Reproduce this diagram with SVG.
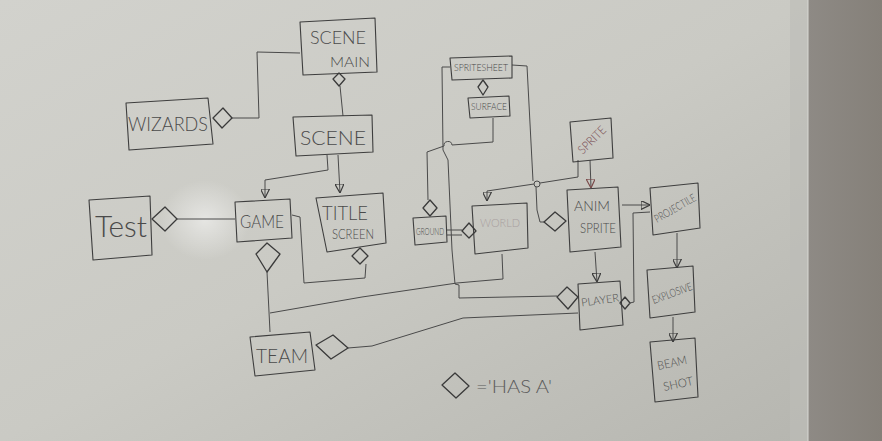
<svg xmlns="http://www.w3.org/2000/svg" width="882" height="441" viewBox="0 0 882 441">
<defs>
<linearGradient id="board" x1="0" y1="0" x2="1" y2="1">
<stop offset="0" stop-color="#d2d2cd"/>
<stop offset="0.5" stop-color="#cacac4"/>
<stop offset="1" stop-color="#b6b6b0"/>
</linearGradient>
<radialGradient id="glare" cx="0.5" cy="0.5" r="0.5">
<stop offset="0" stop-color="#ffffff" stop-opacity="0.5"/>
<stop offset="1" stop-color="#ffffff" stop-opacity="0"/>
</radialGradient>
<linearGradient id="wall" x1="0" y1="0" x2="1" y2="0">
<stop offset="0" stop-color="#8e8a85"/>
<stop offset="1" stop-color="#858079"/>
</linearGradient>
<marker id="tri" viewBox="0 0 10 10" refX="10" refY="5" markerWidth="9" markerHeight="9" markerUnits="userSpaceOnUse" orient="auto">
<path d="M0,0 L10,5 L0,10 Z" fill="none" stroke="#3a3a3a" stroke-width="1.3"/>
</marker>
<marker id="trired" viewBox="0 0 10 10" refX="10" refY="5" markerWidth="9" markerHeight="9" markerUnits="userSpaceOnUse" orient="auto">
<path d="M0,0 L10,5 L0,10 Z" fill="none" stroke="#7a4a4a" stroke-width="1.3"/>
</marker>
</defs>
<style>
.box{fill:none;stroke:#3e3e3e;stroke-width:1.1;stroke-linejoin:round}
.dia{fill:none;stroke:#3a3a3a;stroke-width:1.3;stroke-linejoin:round}
.ln{fill:none;stroke:#4a4a4a;stroke-width:1;stroke-linejoin:round}
.lbl{font-family:"Lato","DejaVu Sans",sans-serif;font-weight:300;fill:#4a4a4a;text-anchor:middle}
.red{fill:#7a4f55}
.faint{fill:#a8a0a0}
</style>
<rect x="0" y="0" width="808" height="441" fill="url(#board)"/>
<ellipse cx="205" cy="220" rx="45" ry="40" fill="url(#glare)"/>
<rect x="790" y="0" width="18" height="441" fill="#bdbdb7" opacity="0.6"/>
<rect x="808" y="0" width="74" height="441" fill="url(#wall)"/>
<line x1="808" y1="0" x2="808" y2="441" stroke="#d8d8d4" stroke-width="1"/>

<g id="connectors">
<path class="ln" d="M300,53 L257,52 L259,118 L232,118"/>
<path class="ln" d="M340,86 L343,116"/>
<path class="ln" d="M327,155 L328,170 L265,180 L265,198" marker-end="url(#tri)"/>
<path class="ln" d="M338,155 L340,193" marker-end="url(#tri)"/>
<path class="ln" d="M177,219 L235,219"/>
<path class="ln" d="M292,215 L300,217 L304,283 L365,278 L366,264"/>
<path class="ln" d="M267,272 L270,332"/>
<path class="ln" d="M270,313 L362,297 L457,283 L503,279 L502,254"/>
<path class="ln" d="M348,348 L372,346 L463,318 L578,313"/>
<path class="ln" d="M450,67 L442,67 L443,150 L448,160 L452,250 L455,284 L459,285 L459,298 L557,296"/>
<path class="ln" d="M493,118 L493,142 L452,145 A4,4 0 0 0 444,146 L427,152 L428,200"/>
<path class="ln" d="M447,230 L462,230 M447,235 L462,235"/>
<path class="ln" d="M578,160 L578,177 L540,183 M534,184 L487,191 L487,201" marker-end="url(#tri)"/>
<circle class="ln" cx="537" cy="184" r="3"/>
<path class="ln" d="M512,65 L527,66 L533,181 M536,187 L537,210 L540,222 L545,222"/>
<path class="ln" d="M590,160 L591,188" stroke="#6a4a4a" marker-end="url(#trired)"/>
<path class="ln" d="M622,205 L650,205" marker-end="url(#tri)"/>
<path class="ln" d="M595,252 L597,282" marker-end="url(#tri)"/>
<path class="ln" d="M630,303 L634,302 L633,213 L650,212"/>
<path class="ln" d="M677,233 L677,268" marker-end="url(#tri)"/>
<path class="ln" d="M673,317 L673,342" marker-end="url(#tri)"/>
</g>

<g id="scene-main">
<path class="box" d="M300,22 L375,18 L377,72 L303,75 Z"/>
<polygon class="dia" points="339,73 345,79 339,86 333,79"/>
<text class="lbl" x="338" y="44" font-size="18" textLength="56" lengthAdjust="spacingAndGlyphs">SCENE</text>
<text class="lbl" x="350" y="67" font-size="14" textLength="40" lengthAdjust="spacingAndGlyphs">MAIN</text>
</g>

<g id="wizards">
<path class="box" d="M126,103 L208,98 L213,144 L129,150 Z"/>
<polygon class="dia" points="213,118 223,108 232,118 222,128"/>
<text class="lbl" x="168" y="131" font-size="20" textLength="80" lengthAdjust="spacingAndGlyphs">WIZARDS</text>
</g>

<g id="scene">
<path class="box" d="M293,117 L372,115 L373,152 L296,156 Z"/>
<text class="lbl" x="333" y="145" font-size="19" textLength="66" lengthAdjust="spacingAndGlyphs">SCENE</text>
</g>

<g id="test">
<path class="box" d="M89,200 L150,196 L152,255 L93,260 Z"/>
<polygon class="dia" points="152,219 165,207 177,219 165,231"/>
<text class="lbl" x="121" y="237" font-size="30" textLength="52" lengthAdjust="spacingAndGlyphs">Test</text>
</g>

<g id="game">
<path class="box" d="M235,202 L290,199 L292,238 L237,242 Z"/>
<polygon class="dia" points="256,254 267,243 280,254 267,272"/>
<text class="lbl" x="262" y="228" font-size="17" textLength="44" lengthAdjust="spacingAndGlyphs">GAME</text>
</g>

<g id="title-screen">
<path class="box" d="M316,198 L383,193 L386,243 L327,252 Z"/>
<polygon class="dia" points="352,256 360,248 368,256 360,264"/>
<text class="lbl" x="345" y="220" font-size="20" textLength="46" lengthAdjust="spacingAndGlyphs">TITLE</text>
<text class="lbl" x="353" y="239" font-size="13" textLength="42" lengthAdjust="spacingAndGlyphs">SCREEN</text>
</g>

<g id="team">
<path class="box" d="M250,337 L310,332 L315,370 L255,376 Z"/>
<polygon class="dia" points="316,345 333,335 348,348 331,359"/>
<text class="lbl" x="282" y="363" font-size="20" textLength="52" lengthAdjust="spacingAndGlyphs">TEAM</text>
</g>

<g id="spritesheet">
<path class="box" d="M450,58 L512,56 L512,78 L452,80 Z"/>
<polygon class="dia" points="483,80 488,87 483,95 478,87"/>
<text class="lbl" x="481" y="71" font-size="9" textLength="54" lengthAdjust="spacingAndGlyphs">SPRITESHEET</text>
</g>

<g id="surface">
<path class="box" d="M468,98 L509,96 L510,116 L470,118 Z"/>
<text class="lbl" x="489" y="110" font-size="9" textLength="36" lengthAdjust="spacingAndGlyphs">SURFACE</text>
</g>

<g id="ground">
<path class="box" d="M413,218 L446,216 L447,242 L415,245 Z"/>
<polygon class="dia" points="430,200 437,208 430,216 423,208"/>
<text class="lbl" x="430" y="235" font-size="9" textLength="28" lengthAdjust="spacingAndGlyphs">GROUND</text>
</g>

<g id="world">
<path class="box" d="M472,206 L527,203 L528,248 L475,254 Z"/>
<polygon class="dia" points="462,231 469,223 476,231 469,238"/>
<text class="lbl faint" x="500" y="227" font-size="12" textLength="40" lengthAdjust="spacingAndGlyphs">WORLD</text>
</g>

<g id="sprite">
<path class="box" d="M570,122 L611,118 L613,158 L573,162 Z"/>
<text class="lbl red" x="592" y="144" font-size="12" textLength="34" lengthAdjust="spacingAndGlyphs" transform="rotate(-45 592 140)">SPRITE</text>
</g>

<g id="anim-sprite">
<path class="box" d="M567,190 L618,187 L621,247 L570,252 Z"/>
<polygon class="dia" points="544,222 555,212 566,221 555,231"/>
<text class="lbl" x="592" y="211" font-size="14" textLength="36" lengthAdjust="spacingAndGlyphs">ANIM</text>
<text class="lbl" x="598" y="233" font-size="13" textLength="36" lengthAdjust="spacingAndGlyphs">SPRITE</text>
</g>

<g id="projectile">
<path class="box" d="M650,188 L698,183 L700,228 L653,235 Z"/>
<text class="lbl" x="675" y="212" font-size="11" textLength="46" lengthAdjust="spacingAndGlyphs" transform="rotate(-30 675 208)">PROJECTILE</text>
</g>

<g id="player">
<path class="box" d="M578,284 L620,281 L623,325 L580,330 Z"/>
<polygon class="dia" points="557,297 567,287 578,297 568,309"/>
<polygon class="dia" points="620,303 625,297 630,303 625,309"/>
<text class="lbl" x="600" y="304" font-size="11" textLength="38" lengthAdjust="spacingAndGlyphs" transform="rotate(-8 600 300)">PLAYER</text>
</g>

<g id="explosive">
<path class="box" d="M647,270 L693,266 L695,312 L650,318 Z"/>
<text class="lbl" x="672" y="297" font-size="11" textLength="42" lengthAdjust="spacingAndGlyphs" transform="rotate(-20 672 293)">EXPLOSIVE</text>
</g>

<g id="beam-shot">
<path class="box" d="M650,342 L695,338 L698,397 L655,402 Z"/>
<text class="lbl" x="672" y="367" font-size="12" textLength="30" lengthAdjust="spacingAndGlyphs" transform="rotate(-12 672 362)">BEAM</text>
<text class="lbl" x="678" y="388" font-size="12" textLength="30" lengthAdjust="spacingAndGlyphs" transform="rotate(-12 678 383)">SHOT</text>
</g>

<g id="legend">
<polygon class="dia" points="442,385 455,373 469,386 456,398"/>
<text class="lbl" x="514" y="393" font-size="17" textLength="76" lengthAdjust="spacingAndGlyphs" style="fill:#5a5a5a">='HAS A'</text>
</g>
</svg>
